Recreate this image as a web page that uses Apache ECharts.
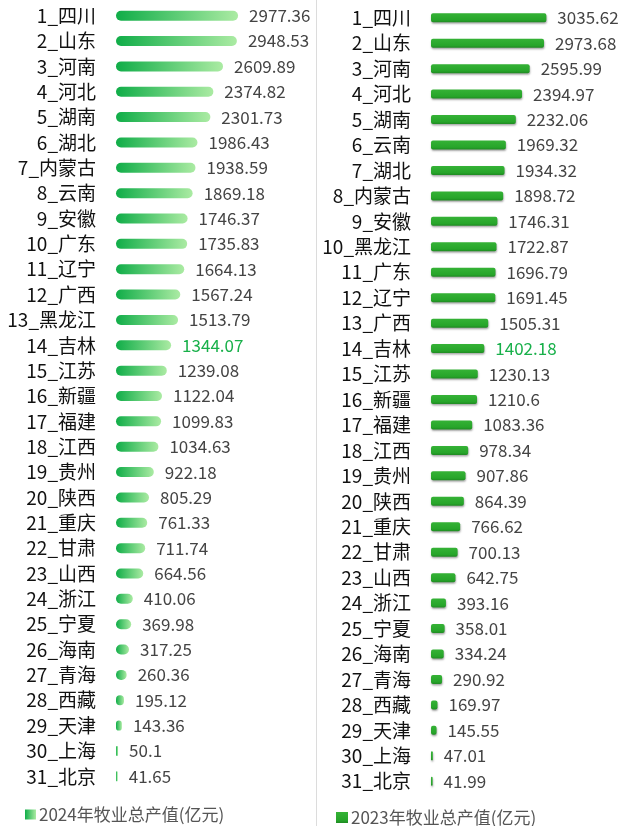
<!DOCTYPE html>
<html>
<head>
<meta charset="utf-8">
<script src="https://cdn.jsdelivr.net/npm/echarts@6/dist/echarts.min.js"></script>
<style>
html,body{margin:0;padding:0;background:#fff;}
#c{width:624px;height:826px;}
</style>
</head>
<body>
<div id="c"></div>
<script>
// ---- data ----
const provinces2024 = ['四川','山东','河南','河北','湖南','湖北','内蒙古','云南','安徽','广东','辽宁','广西','黑龙江','吉林','江苏','新疆','福建','江西','贵州','陕西','重庆','甘肃','山西','浙江','宁夏','海南','青海','西藏','天津','上海','北京'];
const values2024 = [2977.36,2948.53,2609.89,2374.82,2301.73,1986.43,1938.59,1869.18,1746.37,1735.83,1664.13,1567.24,1513.79,1344.07,1239.08,1122.04,1099.83,1034.63,922.18,805.29,761.33,711.74,664.56,410.06,369.98,317.25,260.36,195.12,143.36,50.1,41.65];
const provinces2023 = ['四川','山东','河南','河北','湖南','云南','湖北','内蒙古','安徽','黑龙江','广东','辽宁','广西','吉林','江苏','新疆','福建','江西','贵州','陕西','重庆','甘肃','山西','浙江','宁夏','海南','青海','西藏','天津','上海','北京'];
const values2023 = [3035.62,2973.68,2595.99,2394.97,2232.06,1969.32,1934.32,1898.72,1746.31,1722.87,1696.79,1691.45,1505.31,1402.18,1230.13,1210.6,1083.36,978.34,907.86,864.39,766.62,700.13,642.75,393.16,358.01,334.24,290.92,169.97,145.55,47.01,41.99];
const seriesName2024 = '2024年牧业总产值(亿元)';
const seriesName2023 = '2023年牧业总产值(亿元)';
const highlight = '吉林';

const FONT = '"Noto Sans CJK SC", "Noto Sans", sans-serif';
const cats2024 = provinces2024.map((p, i) => (i + 1) + '_' + p);
const cats2023 = provinces2023.map((p, i) => (i + 1) + '_' + p);

const leftGrad = new echarts.graphic.LinearGradient(0, 0, 1, 0, [
  {offset: 0, color: '#10ad48'},
  {offset: 1, color: '#abeba3'}
]);
const rightColor = new echarts.graphic.LinearGradient(0, 0, 0, 1, [
  {offset: 0, color: '#35b236'},
  {offset: 0.75, color: '#27a52a'},
  {offset: 1, color: '#1f8a22'}
]);

function dataWithHighlight(provs, vals) {
  return vals.map((v, i) => {
    const d = {value: v};
    if (provs[i] === highlight) d.label = {color: '#18b04a'};
    return d;
  });
}

const chart = echarts.init(document.getElementById('c'), null, {renderer: 'canvas'});
chart.setOption({
  backgroundColor: '#fff',
  animation: false,
  grid: [
    {left: 116, width: 123, top: 3, height: 786},
    {left: 431, width: 133, top: 5, height: 789}
  ],
  xAxis: [
    {gridIndex: 0, type: 'value', min: 0, max: 3000, show: false},
    {gridIndex: 1, type: 'value', min: 0, max: 3500, show: false}
  ],
  yAxis: [
    {gridIndex: 0, type: 'category', inverse: true, data: cats2024,
     axisLine: {show: false}, axisTick: {show: false}, splitLine: {show: false},
     axisLabel: {color: '#111', fontSize: 19, fontFamily: FONT, margin: 20, padding: [6, 0, 0, 0]}},
    {gridIndex: 1, type: 'category', inverse: true, data: cats2023,
     axisLabel: {color: '#111', fontSize: 19, fontFamily: FONT, margin: 20, padding: [5, 0, 0, 0]},
     axisLine: {show: false}, axisTick: {show: false}, splitLine: {show: false}}
  ],
  legend: [
    {data: [{name: seriesName2024, icon: 'rect'}], left: 20, top: 801, itemWidth: 11, itemHeight: 10, itemGap: 5,
     textStyle: {color: '#555', fontSize: 17, fontFamily: FONT, padding: [0, 0, 0, -2]}},
    {data: [{name: seriesName2023, icon: 'rect'}], left: 331, top: 804, itemWidth: 12, itemHeight: 11, itemGap: 5,
     textStyle: {color: '#555', fontSize: 17, fontFamily: FONT, padding: [0, 0, 0, -2]}}
  ],
  graphic: [
    {type: 'line', shape: {x1: 316.5, y1: 0, x2: 316.5, y2: 826}, style: {stroke: '#dcdcdc', lineWidth: 1}}
  ],
  series: [
    {name: seriesName2024, type: 'bar', xAxisIndex: 0, yAxisIndex: 0,
     data: dataWithHighlight(provinces2024, values2024), barWidth: 10,
     itemStyle: {color: leftGrad, borderRadius: 5},
     label: {show: true, position: 'right', distance: 11, color: '#444', fontSize: 17, fontFamily: FONT}},
    {name: seriesName2023, type: 'bar', xAxisIndex: 1, yAxisIndex: 1,
     data: dataWithHighlight(provinces2023, values2023), barWidth: 9,
     itemStyle: {color: rightColor, borderRadius: 2, shadowColor: 'rgba(0,0,0,0.35)', shadowBlur: 2, shadowOffsetY: 1.5, shadowOffsetX: 0.5},
     label: {show: true, position: 'right', distance: 11, color: '#444', fontSize: 17, fontFamily: FONT}}
  ]
});
</script>
</body>
</html>
